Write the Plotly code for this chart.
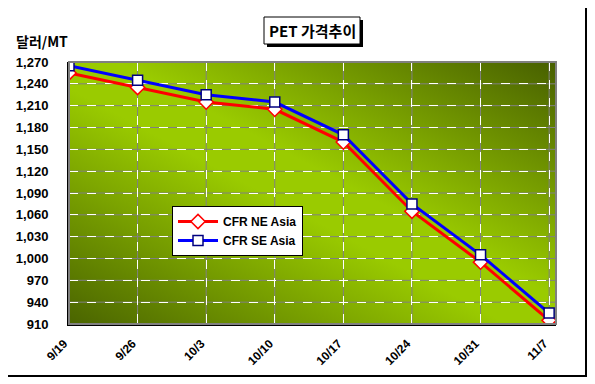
import base64
import plotly.graph_objects as go

dates = ["9/19", "9/26", "10/3", "10/10", "10/17", "10/24", "10/31", "11/7"]
ne_asia = [1255, 1235, 1215, 1205, 1160, 1065, 995, 915]
se_asia = [1265, 1245, 1225, 1215, 1170, 1075, 1005, 925]
y_ticks = [910, 940, 970, 1000, 1030, 1060, 1090, 1120, 1150, 1180, 1210, 1240, 1270]
y_tick_text = [f"{v:,}" for v in y_ticks]

FONT = "Liberation Sans, Arial, sans-serif"
KFONT = "Noto Sans CJK KR, Liberation Sans, sans-serif"

svg = ('<svg xmlns="http://www.w3.org/2000/svg" width="487" height="262" viewBox="0 0 100 100" '
       'preserveAspectRatio="none"><defs><linearGradient id="g" x1="0" y1="1" x2="1" y2="0">'
       '<stop offset="0" stop-color="#4a6400"/><stop offset="0.45" stop-color="#9acb00"/>'
       '<stop offset="0.55" stop-color="#9acb00"/><stop offset="1" stop-color="#475f00"/>'
       '</linearGradient></defs><rect width="100" height="100" fill="url(#g)"/></svg>')
src = "data:image/svg+xml;base64," + base64.b64encode(svg.encode()).decode()

fig = go.Figure()
fig.add_trace(go.Scatter(
    x=dates, y=ne_asia, name="CFR NE Asia", mode="lines+markers",
    line=dict(color="#ff0000", width=3),
    marker=dict(symbol="diamond", size=11, color="white", line=dict(color="#ff0000", width=1.5)),
))
fig.add_trace(go.Scatter(
    x=dates, y=se_asia, name="CFR SE Asia", mode="lines+markers",
    line=dict(color="#0000ff", width=3),
    marker=dict(symbol="square", size=10, color="white", line=dict(color="#000080", width=1.5)),
))

# target pixel positions in the 595x384 window (page body has an 8px margin)
OFF = 8
L, R, T, B = 69, 556, 62, 324
W, H = 595 - OFF, 384 - OFF
pw, ph = R - L, B - T
def px(x):
    return (x - L) / pw
def py(y):
    return (B - y) / ph

shapes = []
for v in y_ticks[1:-1]:
    shapes.append(dict(type="line", xref="paper", yref="y", x0=0, x1=1, y0=v, y1=v,
                       line=dict(color="#808080", width=1), layer="below"))
for i in range(1, len(dates)):
    shapes.append(dict(type="line", xref="x", yref="paper", x0=i, x1=i, y0=0, y1=1,
                       line=dict(color="#808080", width=1), layer="below"))
shapes.append(dict(type="rect", xref="paper", yref="paper", x0=0, x1=1, y0=0, y1=1,
                   line=dict(color="#808080", width=2), layer="above"))
shapes.append(dict(type="rect", xref="paper", yref="paper", x0=px(4), x1=px(586), y0=py(376), y1=py(4),
                   line=dict(color="black", width=2)))
shapes.append(dict(type="rect", xref="paper", yref="paper", x0=px(267), x1=px(363), y0=py(47), y1=py(20),
                   fillcolor="black", line=dict(width=0)))
shapes.append(dict(type="rect", xref="paper", yref="paper", x0=px(264), x1=px(360), y0=py(44), y1=py(17),
                   fillcolor="white", line=dict(color="black", width=1)))

fig.update_layout(
    width=W, height=H,
    margin=dict(l=L - OFF, r=595 - R, t=T - OFF, b=384 - B, autoexpand=False),
    paper_bgcolor="white",
    plot_bgcolor="rgba(0,0,0,0)",
    showlegend=True,
    legend=dict(x=px(172), y=py(206), xanchor="left", yanchor="top",
                bgcolor="white", bordercolor="black", borderwidth=1,
                font=dict(family=FONT, size=12, color="black", weight="bold"),
                tracegroupgap=0, itemwidth=40),
    images=[dict(source=src, xref="paper", yref="paper", x=0, y=1, sizex=1, sizey=1,
                 sizing="stretch", layer="below", xanchor="left", yanchor="top")],
    shapes=shapes,
    annotations=[
        dict(text="<b>PET 가격추이</b>", xref="paper", yref="paper", x=px(312), y=py(30.5),
             xanchor="center", yanchor="middle", showarrow=False,
             font=dict(family=KFONT, size=15, color="black")),
        dict(text="<b>달러/MT</b>", xref="paper", yref="paper", x=px(14), y=py(41),
             xanchor="left", yanchor="middle", showarrow=False,
             font=dict(family=KFONT, size=14, color="black")),
    ],
    xaxis=dict(type="category", range=[0, 7.1], showgrid=True, gridcolor="white",
               griddash="dash", gridwidth=1, showline=True, linecolor="black", linewidth=2,
               ticks="", tickangle=-45, automargin=False,
               tickfont=dict(family=FONT, size=12, color="black", weight="bold"),
               ticklabelstandoff=6, ticklabelshift=-5, zeroline=False),
    yaxis=dict(range=[910, 1270], tickvals=y_ticks, ticktext=y_tick_text, showgrid=True,
               gridcolor="white", griddash="dash", gridwidth=1, showline=True, linecolor="black",
               linewidth=2, ticks="", automargin=False,
               tickfont=dict(family=FONT, size=13, color="black", weight="bold"),
               ticklabelstandoff=16, zeroline=False),
)

fig.write_html("out.html")
